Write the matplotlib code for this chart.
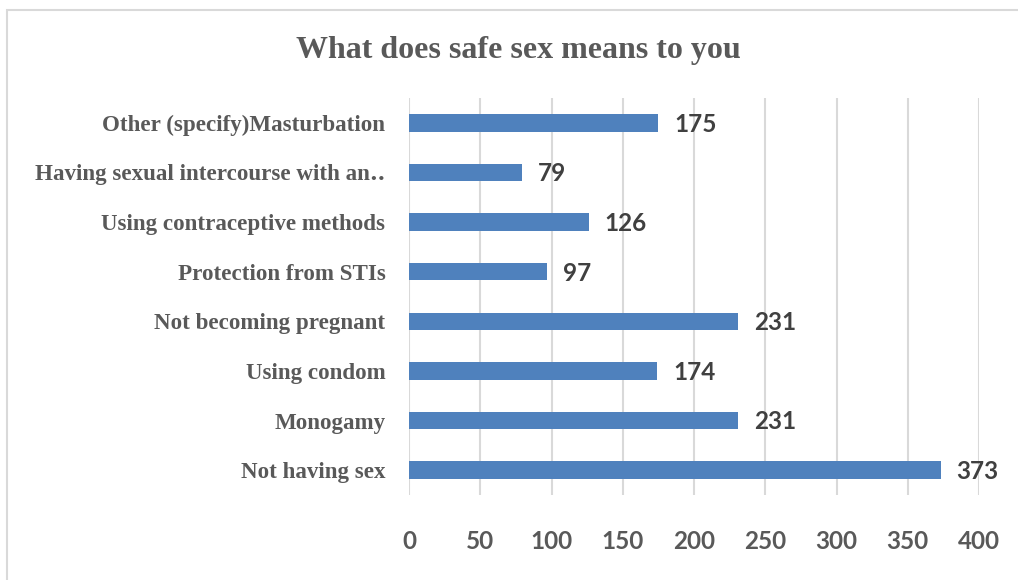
import matplotlib
matplotlib.use("Agg")
import matplotlib.pyplot as plt
from matplotlib.patches import Rectangle

categories = [
    "Not having sex",
    "Monogamy",
    "Using condom",
    "Not becoming pregnant",
    "Protection from STIs",
    "Using contraceptive methods",
    "Having sexual intercourse with an\u2025",
    "Other (specify)Masturbation",
]
values = [373, 231, 174, 231, 97, 126, 79, 175]
xticks = [0, 50, 100, 150, 200, 250, 300, 350, 400]
title = "What does safe sex means to you"

bar_color = "#4F81BD"
text_gray = "#595959"
label_dark = "#404040"
grid_gray = "#D9D9D9"
serif = ["Liberation Serif", "DejaVu Serif", "DejaVu Sans"]

fig = plt.figure(figsize=(10.18, 5.80), dpi=100)
fig.patches.append(Rectangle((0.007, -0.1), 1.1, 1.083, transform=fig.transFigure,
                             fill=False, edgecolor="#D9D9D9", linewidth=1.5))

ax = fig.add_axes([0.4018, 0.1466, 0.5599, 0.6844])
y = list(range(len(categories)))
ax.barh(y, values, height=0.35, color=bar_color, zorder=3)
ax.set_ylim(-0.5, len(categories) - 0.5)
ax.set_xlim(0, 400)
ax.set_xticks(xticks)
ax.set_xticklabels([str(t) for t in xticks], fontfamily="Lato", fontweight="bold",
                   fontsize=17.5, color=text_gray)
ax.set_yticks(y)
ax.set_yticklabels(categories, family=serif, fontweight="bold",
                   fontsize=16.6, color=text_gray)
ax.tick_params(axis="x", length=0, pad=25)
ax.tick_params(axis="y", length=0, pad=17)
for s in ax.spines.values():
    s.set_visible(False)
ax.xaxis.grid(True, color=grid_gray, linewidth=1.5, zorder=0)
ax.set_axisbelow(True)

for yi, v in zip(y, values):
    ax.annotate(str(v), (v, yi), xytext=(11.5, -1), textcoords="offset points",
                ha="left", va="center", fontfamily="Lato", fontweight="bold",
                fontsize=17.5, color=label_dark)

fig.text(0.509, 0.913, title, ha="center", va="center", family=serif,
         fontweight="bold", fontsize=23, color=text_gray)

fig.savefig("out.png", dpi=100)
